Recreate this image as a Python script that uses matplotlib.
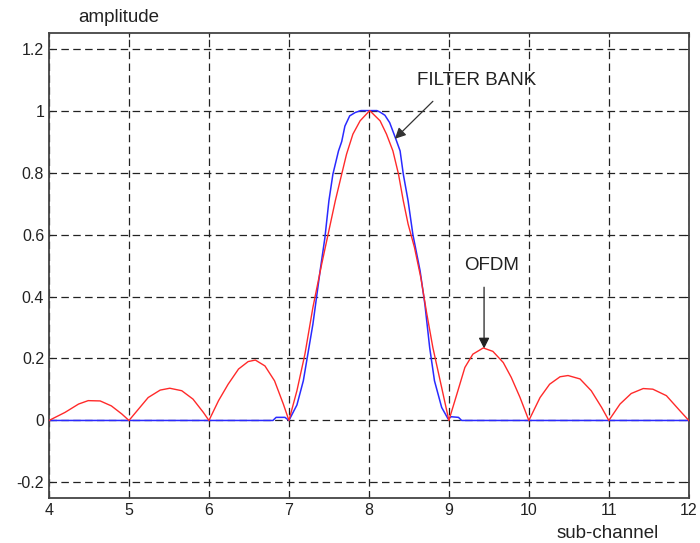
import matplotlib
matplotlib.use('Agg')
import matplotlib.pyplot as plt

plt.rcParams['font.family'] = ['Liberation Sans', 'DejaVu Sans']

# OFDM (red) curve
ofdm_x = [4.0, 4.20, 4.37, 4.49, 4.64, 4.78, 4.91, 5.0,
          5.12, 5.24, 5.39, 5.51, 5.66, 5.80, 5.93, 6.0,
          6.12, 6.24, 6.37, 6.49, 6.58, 6.70, 6.82, 6.93, 7.0,
          7.10, 7.20, 7.30, 7.41, 7.49, 7.58, 7.66, 7.72, 7.80, 7.89, 8.01,
          8.14, 8.22, 8.30, 8.37, 8.43, 8.49, 8.57, 8.65, 8.72, 8.80, 8.91, 9.0,
          9.10, 9.20, 9.30, 9.43, 9.55, 9.68, 9.78, 9.89, 10.0,
          10.14, 10.26, 10.39, 10.49, 10.64, 10.78, 10.91, 11.0,
          11.14, 11.28, 11.43, 11.55, 11.72, 11.89, 12.0]
ofdm_y = [0.0, 0.026, 0.053, 0.064, 0.063, 0.047, 0.021, 0.0,
          0.037, 0.074, 0.098, 0.104, 0.096, 0.069, 0.026, 0.0,
          0.064, 0.117, 0.166, 0.190, 0.195, 0.176, 0.128, 0.053, 0.0,
          0.096, 0.214, 0.365, 0.505, 0.601, 0.709, 0.795, 0.859, 0.924, 0.967, 1.0,
          0.967, 0.924, 0.870, 0.795, 0.709, 0.634, 0.558, 0.460, 0.350, 0.235, 0.106, 0.0,
          0.085, 0.171, 0.214, 0.234, 0.223, 0.187, 0.139, 0.074, 0.0,
          0.074, 0.117, 0.141, 0.145, 0.134, 0.096, 0.042, 0.0,
          0.053, 0.087, 0.103, 0.101, 0.080, 0.031, 0.0]

# filter bank (blue) curve
fb_x = [4.0, 6.80, 6.84, 6.95, 7.0, 7.10, 7.18, 7.30, 7.39, 7.45, 7.50, 7.55,
        7.62, 7.66, 7.70, 7.76, 7.83, 7.90, 8.01, 8.10, 8.14, 8.20, 8.26, 8.33,
        8.39, 8.43, 8.49, 8.55, 8.64, 8.70, 8.76, 8.82, 8.91, 8.99,
        9.03, 9.12, 9.16, 12.0]
fb_y = [0.0, 0.0, 0.01, 0.01, 0.0, 0.05, 0.128, 0.311, 0.483, 0.59, 0.709, 0.795,
        0.870, 0.900, 0.950, 0.983, 0.994, 1.0, 1.0, 1.0, 0.995, 0.985, 0.961, 0.913,
        0.870, 0.795, 0.709, 0.600, 0.483, 0.375, 0.235, 0.128, 0.042, 0.005,
        0.012, 0.010, 0.0, 0.0]

x_ticks = [4, 5, 6, 7, 8, 9, 10, 11, 12]
y_ticks = [-0.2, 0, 0.2, 0.4, 0.6, 0.8, 1, 1.2]
y_tick_labels = ['-0.2', '0', '0.2', '0.4', '0.6', '0.8', '1', '1.2']

fig = plt.figure(figsize=(7, 5.43), dpi=100)
ax = fig.add_axes([0.07, 0.083, 0.914, 0.856])

ax.plot(fb_x, fb_y, color='#2a2aff', lw=1.1, zorder=3)
ax.plot(ofdm_x, ofdm_y, color='#ff2a2a', lw=1.0, zorder=4)

ax.set_xlim(4, 12)
ax.set_ylim(-0.25, 1.25)
ax.set_xticks(x_ticks)
ax.set_yticks(y_ticks)
ax.set_yticklabels(y_tick_labels)
ax.tick_params(direction='in', length=3, labelsize=11.5, colors='#222222',
               top=True, right=True)
for s in ax.spines.values():
    s.set_linewidth(1.3)
    s.set_color('#444444')

ax.grid(True, color='#222222', linestyle=(0, (6, 3.5)), linewidth=0.9)
ax.set_axisbelow(True)

ax.text(4.36, 1.30, 'amplitude', fontsize=13.5, va='center', ha='left',
        color='#222222', clip_on=False)
ax.text(10.35, -0.366, 'sub-channel', fontsize=13.5, va='center', ha='left',
        color='#222222', clip_on=False)

# labels and their arrows
ax.text(8.6, 1.096, 'FILTER BANK', fontsize=13.5, va='center', ha='left',
        color='#222222')
ax.annotate('', xy=(8.325, 0.909), xytext=(8.8, 1.03),
            arrowprops=dict(arrowstyle='-|>', color='#333333', lw=0.9,
                            mutation_scale=16, shrinkA=0, shrinkB=0))
ax.text(9.19, 0.499, 'OFDM', fontsize=13.5, va='center', ha='left',
        color='#222222')
ax.annotate('', xy=(9.44, 0.232), xytext=(9.44, 0.43),
            arrowprops=dict(arrowstyle='-|>', color='#222222', lw=0.9,
                            mutation_scale=16, shrinkA=0, shrinkB=0))

fig.savefig('out.png', dpi=100)
